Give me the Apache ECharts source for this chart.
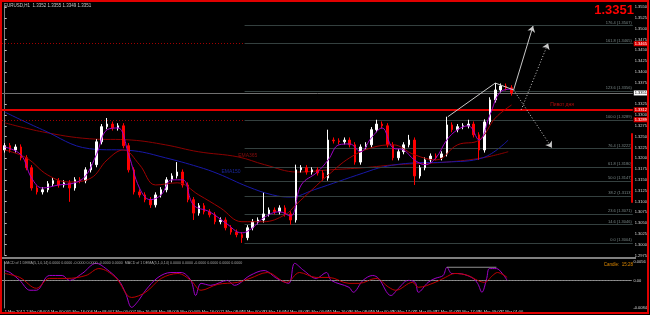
<!DOCTYPE html>
<html><head><meta charset="utf-8">
<script src="https://cdn.jsdelivr.net/npm/echarts/dist/echarts.min.js"></script>
<style>html,body{margin:0;padding:0;background:#000}#c{width:650px;height:315px}</style>
</head><body><div id="c"></div>
<script>
// ---------- DATA ----------
const xLabels = ["1 Mar 2012","2 Mar 08:00","5 Mar 00:00","5 Mar 16:00","6 Mar 08:00","7 Mar 00:00","7 Mar 16:00","8 Mar 08:00","9 Mar 00:00","9 Mar 16:00","12 Mar 08:00","13 Mar 00:00","13 Mar 16:00","14 Mar 08:00","15 Mar 00:00","15 Mar 16:00","16 Mar 08:00","19 Mar 00:00","20 Mar 17:00","21 Mar 09:00","22 Mar 01:00","23 Mar 17:00","26 Mar 09:00","27 Mar 01:00"];
const yMin = 1.2975, yMax = 1.3550, yStep = 0.0025;
const macdMin = -0.0084, macdMax = 0.0056, macdStep = 0.0028;
const macdTickValues = [0.0056, 0, -0.0084];
const macdTickLabels = ["0.0056", "0.00", "-0.0084"];
const slotCount = 117;

// [open, close, low, high]
const candles = [
[1.3219,1.3229,1.3213,1.3235],[1.3229,1.3219,1.3213,1.3235],[1.3219,1.3226,1.3213,1.3232],[1.3226,1.3201,1.3195,1.3232],
[1.3201,1.3178,1.3172,1.3207],[1.3178,1.3131,1.3125,1.3184],[1.3131,1.3122,1.3116,1.3137],[1.3122,1.3127,1.3116,1.3133],
[1.3127,1.3141,1.3121,1.3147],[1.3141,1.3148,1.3135,1.3154],[1.3148,1.3138,1.3132,1.3154],[1.3138,1.3143,1.3132,1.3149],
[1.3143,1.3131,1.3099,1.3149],[1.3131,1.3150,1.3125,1.3156],[1.3150,1.3148,1.3142,1.3156],[1.3148,1.3173,1.3142,1.3179],
[1.3173,1.3185,1.3167,1.3191],[1.3185,1.3238,1.3179,1.3244],[1.3238,1.3273,1.3232,1.3279],[1.3273,1.3279,1.3267,1.3293],
[1.3279,1.3270,1.3264,1.3285],[1.3270,1.3275,1.3264,1.3281],[1.3275,1.3229,1.3223,1.3281],[1.3229,1.3173,1.3167,1.3235],
[1.3173,1.3122,1.3116,1.3179],[1.3122,1.3115,1.3109,1.3128],[1.3115,1.3104,1.3098,1.3121],[1.3104,1.3092,1.3085,1.3110],
[1.3092,1.3115,1.3086,1.3121],[1.3115,1.3127,1.3109,1.3133],[1.3127,1.3150,1.3121,1.3156],[1.3150,1.3159,1.3144,1.3165],
[1.3159,1.3168,1.3153,1.3191],[1.3168,1.3138,1.3132,1.3174],[1.3138,1.3104,1.3098,1.3144],[1.3104,1.3073,1.3057,1.3110],
[1.3073,1.3090,1.3067,1.3096],[1.3090,1.3076,1.3070,1.3096],[1.3076,1.3069,1.3063,1.3082],[1.3069,1.3053,1.3047,1.3075],
[1.3053,1.3057,1.3047,1.3063],[1.3057,1.3039,1.3033,1.3063],[1.3039,1.3029,1.3023,1.3045],[1.3029,1.3023,1.3017,1.3035],
[1.3023,1.3016,1.3004,1.3029],[1.3016,1.3039,1.3010,1.3045],[1.3039,1.3053,1.3033,1.3059],[1.3053,1.3057,1.3047,1.3063],
[1.3057,1.3071,1.3051,1.3120],[1.3071,1.3080,1.3065,1.3086],[1.3080,1.3076,1.3070,1.3086],[1.3076,1.3085,1.3070,1.3091],
[1.3085,1.3071,1.3065,1.3091],[1.3071,1.3057,1.3046,1.3077],[1.3057,1.3173,1.3051,1.3185],[1.3173,1.3178,1.3167,1.3184],
[1.3178,1.3168,1.3162,1.3184],[1.3168,1.3173,1.3162,1.3179],[1.3173,1.3166,1.3160,1.3179],[1.3166,1.3154,1.3148,1.3172],
[1.3154,1.3242,1.3148,1.3266],[1.3242,1.3240,1.3234,1.3248],[1.3240,1.3238,1.3232,1.3246],[1.3238,1.3242,1.3232,1.3248],
[1.3242,1.3231,1.3225,1.3248],[1.3231,1.3191,1.3185,1.3237],[1.3191,1.3226,1.3185,1.3232],[1.3226,1.3231,1.3220,1.3237],
[1.3231,1.3266,1.3225,1.3272],[1.3266,1.3279,1.3260,1.3289],[1.3279,1.3275,1.3269,1.3285],[1.3275,1.3231,1.3225,1.3281],
[1.3231,1.3201,1.3195,1.3237],[1.3201,1.3215,1.3195,1.3221],[1.3215,1.3231,1.3209,1.3237],[1.3231,1.3242,1.3225,1.3254],
[1.3242,1.3159,1.3138,1.3248],[1.3159,1.3178,1.3153,1.3184],[1.3178,1.3196,1.3172,1.3202],[1.3196,1.3205,1.3190,1.3211],
[1.3205,1.3201,1.3195,1.3211],[1.3201,1.3210,1.3195,1.3216],[1.3210,1.3277,1.3204,1.3296],[1.3277,1.3266,1.3260,1.3283],
[1.3266,1.3273,1.3260,1.3279],[1.3273,1.3275,1.3267,1.3281],[1.3275,1.3279,1.3269,1.3289],[1.3279,1.3254,1.3248,1.3285],
[1.3254,1.3219,1.3196,1.3260],[1.3219,1.3284,1.3213,1.3290],[1.3284,1.3335,1.3278,1.3341],[1.3335,1.3358,1.3329,1.3374],
[1.3358,1.3367,1.3352,1.3373],[1.3367,1.3363,1.3357,1.3373],[1.3363,1.3351,1.3345,1.3369]
];

// moving averages: [bar index, price]
const emaFast = [[0,1.3226],[3,1.3208],[5,1.3154],[7,1.3131],[10,1.3138],[13,1.3143],[15,1.3159],[17,1.3208],[19,1.3266],[21,1.3270],[23,1.3208],[25,1.3131],[27,1.3104],[29,1.3115],[31,1.3150],[33,1.3150],[35,1.3092],[38,1.3076],[41,1.3050],[44,1.3027],[46,1.3039],[48,1.3062],[51,1.3076],[53,1.3066],[55,1.3138],[58,1.3168],[60,1.3196],[62,1.3231],[64,1.3233],[66,1.3215],[68,1.3247],[70,1.3270],[72,1.3224],[74,1.3219],[76,1.3196],[78,1.3185],[80,1.3201],[82,1.3242],[84,1.3266],[86,1.3275],[88,1.3242],[90,1.3300],[92,1.3354],[94,1.3360]];
const emaMid = [[0,1.3219],[4,1.3201],[8,1.3161],[12,1.3145],[16,1.3154],[19,1.3196],[22,1.3219],[25,1.3185],[28,1.3138],[32,1.3143],[36,1.3115],[40,1.3085],[44,1.3053],[48,1.3053],[52,1.3069],[54,1.3092],[57,1.3127],[60,1.3161],[64,1.3201],[68,1.3224],[72,1.3231],[76,1.3208],[80,1.3196],[84,1.3231],[88,1.3242],[91,1.3293],[94,1.3323]];
const ema150 = [[0,1.3307],[7,1.3266],[15.7,1.3222],[24,1.3217],[29.8,1.3201],[35.9,1.3180],[39.6,1.3164],[45.1,1.3134],[49.7,1.3115],[53,1.3110],[57.4,1.3127],[66.6,1.3166],[70.3,1.3180],[75.8,1.3189],[81.9,1.3191],[88.7,1.3201],[93.4,1.3242]];
const ema365 = [[0,1.3282],[7,1.3261],[15.7,1.3245],[23.6,1.3242],[29.8,1.3231],[35.9,1.3215],[43.3,1.3203],[48.2,1.3185],[54.3,1.3168],[60.3,1.3173],[66.6,1.3178],[72.7,1.3185],[81.9,1.3191],[88.7,1.3201],[93.4,1.3215]];

// MACD: [bar index, value]
const macdMain = [[0,0.0030],[1,0.0024],[2.8,0],[4.7,-0.0030],[5.9,-0.0030],[8.3,0.0015],[10.7,0.0015],[12,0],[14.4,0.0021],[17,0.0052],[18.8,0.0036],[21.2,0],[22.5,-0.0040],[23.6,-0.0082],[24.9,-0.0061],[26.2,-0.0030],[28.5,0.0009],[30.9,0.0024],[32.8,0.0024],[34.6,0],[35.5,-0.0046],[36.5,-0.0009],[38.3,-0.0015],[41.4,0],[42.7,-0.0015],[45.6,0.0015],[48.2,0.0030],[50.6,0.0006],[52.8,-0.0009],[53.9,0.0052],[55.6,0.0030],[57.9,0.0006],[59.8,0.0024],[60.7,0],[64,-0.0021],[64.8,-0.0036],[66.6,0],[68.4,0.0015],[69.5,0.0006],[71.8,-0.0046],[73.2,-0.0024],[75,0],[76.3,-0.0006],[76.9,-0.0036],[78.7,-0.0006],[80,0.0006],[81.5,0.0015],[82.2,0.0040],[83.1,0.0021],[84.2,0.0021],[86.8,0.0009],[87.9,-0.0009],[88.7,-0.0036],[89.6,0.0006],[90.1,0.0036],[91.4,0.0036],[92.5,0.0021],[93.4,0]];
const macdSignal = [[0,0.0021],[2.8,0.0009],[5.9,-0.0024],[8.3,0.0006],[11.5,0.0006],[15.1,0.0015],[17.5,0.0036],[20.6,0.0009],[23.6,-0.0052],[26.2,-0.0036],[29.1,0.0006],[32.2,0.0021],[34.6,0],[36.5,-0.0030],[39.6,-0.0012],[43.3,-0.0006],[45.6,0.0006],[48.8,0.0024],[52.4,-0.0006],[54.8,0.0024],[57.9,0.0009],[60.3,0.0009],[64,-0.0009],[65.9,-0.0009],[69,0.0006],[71.4,-0.0021],[72.7,-0.0030],[75.8,-0.0006],[76.9,-0.0021],[80,-0.0006],[81.9,0.0009],[83.7,0.0021],[86.1,0.0015],[87.9,0],[89.2,-0.0006],[90.7,0.0015],[91.6,0.0024],[93.4,0.0009]];
const macdLevel = [[82.2,0.0040],[91.4,0.0040]];

// Fibonacci
const fibLevels = ["0.0","14.6","23.6","38.2","50.0","61.8","76.4","100.0","123.6","161.8","176.4"];
const fibPrices = [1.3004,1.3046,1.3071,1.3113,1.3147,1.3180,1.3222,1.3289,1.3356,1.3465,1.3507];
const fibStartBar = 44.5;

// horizontal levels
const redDottedLevels = [1.3465, 1.3289];
const pivotLevel = 1.3312;
const bidLevel = 1.3351;

// drawn objects: [[bar, price],[bar, price]]
const trendSegments = [[[82.2,1.3296],[91.0,1.3374]], [[91.0,1.3374],[94.4,1.3358]]];
const solidArrows = [[[94.4,1.3358],[98.0,1.3506]]];
const dottedArrows = [[[94.4,1.3358],[101.5,1.3224]], [[95.8,1.3312],[100.8,1.3466]]];
const sideBar = [[116.4,1.3258],[116.4,1.3097]];

const objectLabels = [
  {name:"EMA365", at:[43.3,1.3206]},
  {name:"EMA150", at:[40.2,1.3168]},
  {name:"Пивот дня", at:[101.2,1.3325]}
];
const objectLabelColors = ["#a01010", "#2030c0", "#e01010"];

const headerText = "EURUSD,H1  1.3352 1.3355 1.3349 1.3351";
const macdHeaderText = "MACD of 1 DEMA(5,1,0,14) 0.0000 0.0000 -0.0000 0.0000 -0.0000 0.0000  MACD of 1 DEMA(5,1,0,14) 0.0000 0.0000 -0.0000 0.0000 0.0000 0.0000";
const candleTimerText = "Candle:  15:28";

// ---------- CHART ----------
const F = "'Liberation Sans', Arial, sans-serif";
const cats = Array.from({length: slotCount}, (_, i) => String(i));
const chart = echarts.init(document.getElementById('c'), null, {renderer: 'canvas'});
const lastClose = candles[candles.length - 1][1];
const xLo = -0.5, xHi = slotCount - 0.5;

const fibMarkData = fibPrices.map((p, i) => [
  {coord: [fibStartBar, p], name: fibLevels[i]},
  {coord: [xHi, p]}
]);

function boxLabel(p, bg, fg) {
  return {show: true, position: 'end', distance: 1, formatter: p.toFixed(4), backgroundColor: bg, color: fg,
    fontSize: 4, padding: [1, 1, 0, 1], fontFamily: F};
}
function fullLine(p, lineStyle, label) {
  return [{coord: [xLo, p], lineStyle: lineStyle, label: label}, {coord: [xHi, p], lineStyle: lineStyle, label: label}];
}
const levelMarkData = [
  ...redDottedLevels.map(p => fullLine(p, {color: '#a00000', type: [1, 2], width: 1}, boxLabel(p, '#e00000', '#ffffff'))),
  fullLine(pivotLevel, {color: '#e00000', type: 'solid', width: 2}, boxLabel(pivotLevel, '#e00000', '#ffffff')),
  fullLine(bidLevel, {color: '#707070', type: 'solid', width: 1}, boxLabel(bidLevel, '#ffffff', '#000000'))
];

const option = {
  backgroundColor: '#000',
  animation: false,
  grid: [
    {left: 2, top: 7, width: 634, height: 248.4},
    {left: 2, top: 262, width: 634, height: 46}
  ],
  xAxis: [
    {type: 'category', gridIndex: 0, data: cats, show: false},
    {type: 'value', gridIndex: 0, min: xLo, max: xHi, show: false},
    {type: 'category', gridIndex: 1, data: cats,
      axisLine: {lineStyle: {color: '#808080', width: 1}},
      axisTick: {interval: 3, alignWithLabel: true, length: 2, lineStyle: {color: '#c0c0c0'}},
      axisLabel: {interval: 3, align: 'left', margin: 2, fontSize: 4, color: '#d8d8d8', fontFamily: F,
        formatter: (v, i) => xLabels[i / 4] || ''}},
    {type: 'value', gridIndex: 1, min: xLo, max: xHi, show: false}
  ],
  yAxis: [
    {type: 'value', gridIndex: 0, position: 'right', min: yMin, max: yMax, interval: yStep,
      axisLine: {show: true, lineStyle: {color: '#808080'}},
      axisTick: {show: true, length: 2, lineStyle: {color: '#c0c0c0'}},
      splitLine: {show: false},
      axisLabel: {fontSize: 4, color: '#d8d8d8', margin: 2, fontFamily: F, formatter: v => v.toFixed(4)}},
    {type: 'value', gridIndex: 1, position: 'right', min: macdMin, max: macdMax, interval: macdStep,
      axisLine: {show: true, lineStyle: {color: '#808080'}},
      axisTick: {show: false},
      splitLine: {show: false},
      axisLabel: {fontSize: 4, color: '#d8d8d8', margin: 2, fontFamily: F, showMinLabel: true, showMaxLabel: true,
        formatter: v => {
          for (let i = 0; i < macdTickValues.length; i++) if (Math.abs(v - macdTickValues[i]) < 1e-7) return macdTickLabels[i];
          return '';
        }}}
  ],
  series: [
    {type: 'candlestick', xAxisIndex: 0, yAxisIndex: 0, data: candles, barWidth: 2, z: 5,
      itemStyle: {color: '#ffffff', color0: '#ff0000', borderColor: '#ffffff', borderColor0: '#ff0000', borderWidth: 1}},
    {type: 'line', name: 'levels', xAxisIndex: 1, yAxisIndex: 0, data: [], symbol: 'none', z: 4,
      markLine: {silent: true, symbol: ['none', 'none'], animation: false, data: levelMarkData}},
    {type: 'line', name: 'fib', xAxisIndex: 1, yAxisIndex: 0, data: [], symbol: 'none', z: 2,
      markLine: {silent: true, symbol: ['none', 'none'], animation: false,
        lineStyle: {color: '#34403f', type: 'solid', width: 1},
        label: {show: true, position: 'insideEndTop', distance: 1, fontSize: 4, color: '#7a8888', fontFamily: F,
          formatter: p => fibLevels[p.dataIndex] + ' (' + fibPrices[p.dataIndex].toFixed(4) + ')'},
        data: fibMarkData}},
    {type: 'line', name: 'EMA365', xAxisIndex: 1, yAxisIndex: 0, data: ema365, smooth: 0.4, symbol: 'none', z: 3,
      lineStyle: {color: '#8b0000', width: 1}},
    {type: 'line', name: 'EMA150', xAxisIndex: 1, yAxisIndex: 0, data: ema150, smooth: 0.4, symbol: 'none', z: 3,
      lineStyle: {color: '#1818a8', width: 1}},
    {type: 'line', name: 'EMAmid', xAxisIndex: 1, yAxisIndex: 0, data: emaMid, smooth: 0.4, symbol: 'none', z: 6,
      lineStyle: {color: '#a00000', width: 1}},
    {type: 'line', name: 'EMAfast', xAxisIndex: 1, yAxisIndex: 0, data: emaFast, smooth: 0.4, symbol: 'none', z: 6,
      lineStyle: {color: '#a000c8', width: 1}},
    {type: 'lines', coordinateSystem: 'cartesian2d', xAxisIndex: 1, yAxisIndex: 0, z: 8,
      data: trendSegments.map(c => ({coords: c})), symbol: ['none', 'none'],
      lineStyle: {color: '#c8c8c8', width: 1, type: 'solid', opacity: 1}},
    {type: 'lines', coordinateSystem: 'cartesian2d', xAxisIndex: 1, yAxisIndex: 0, z: 8,
      data: solidArrows.map(c => ({coords: c})), symbol: ['none', 'arrow'], symbolSize: 6,
      lineStyle: {color: '#c8c8c8', width: 1, type: 'solid', opacity: 1}},
    {type: 'lines', coordinateSystem: 'cartesian2d', xAxisIndex: 1, yAxisIndex: 0, z: 8,
      data: dottedArrows.map(c => ({coords: c})), symbol: ['none', 'arrow'], symbolSize: 6,
      lineStyle: {color: '#c8c8c8', width: 1, type: [1, 2], opacity: 1}},
    {type: 'lines', coordinateSystem: 'cartesian2d', xAxisIndex: 1, yAxisIndex: 0, z: 8,
      data: [{coords: sideBar}], symbol: ['none', 'none'],
      lineStyle: {color: '#e00000', width: 2, type: 'solid', opacity: 1}},
    {type: 'scatter', xAxisIndex: 1, yAxisIndex: 0, symbolSize: 0, z: 9,
      data: objectLabels.map((o, i) => ({name: o.name, value: o.at,
        label: {show: true, position: 'right', distance: 0, formatter: o.name, color: objectLabelColors[i], fontSize: 5, fontFamily: F}}))},
    {type: 'line', name: 'MACD', xAxisIndex: 3, yAxisIndex: 1, data: macdMain, smooth: 0.35, symbol: 'none', z: 4,
      lineStyle: {color: '#a000c8', width: 1},
      markLine: {silent: true, symbol: ['none', 'none'], animation: false,
        data: [[{coord: [xLo, 0]}, {coord: [xHi, 0]}]], lineStyle: {color: '#909090', type: [1, 2], width: 1}, label: {show: false}}},
    {type: 'line', name: 'Signal', xAxisIndex: 3, yAxisIndex: 1, data: macdSignal, smooth: 0.35, symbol: 'none', z: 4,
      lineStyle: {color: '#c00000', width: 1}},
    {type: 'line', name: 'Level', xAxisIndex: 3, yAxisIndex: 1, data: macdLevel, symbol: 'none', z: 4,
      lineStyle: {color: '#909090', width: 1}}
  ],
  graphic: [
    {type: 'rect', z: 100, silent: true, shape: {x: 1, y: 1, width: 647, height: 312},
      style: {fill: 'none', stroke: '#e00000', lineWidth: 2}},
    {type: 'line', z: 50, silent: true, shape: {x1: 2, y1: 258, x2: 636, y2: 258},
      style: {stroke: '#808080', lineWidth: 2}},
    {type: 'text', z: 50, x: 4, y: 3, style: {text: headerText, fill: '#c8c8c8', font: "4.5px " + F}},
    {type: 'text', z: 50, x: 634, y: 4, style: {text: lastClose.toFixed(4), fill: '#ff0000', font: "bold 13px " + F, align: 'right', textAlign: 'right'}},
    {type: 'text', z: 50, x: 4, y: 261, style: {text: macdHeaderText, fill: '#a8a8a8', font: "3.6px " + F}},
    {type: 'text', z: 50, x: 633, y: 262, style: {text: candleTimerText, fill: '#e08a00', font: "4.5px " + F, align: 'right', textAlign: 'right'}}
  ]
};
chart.setOption(option);
</script>
</body></html>
